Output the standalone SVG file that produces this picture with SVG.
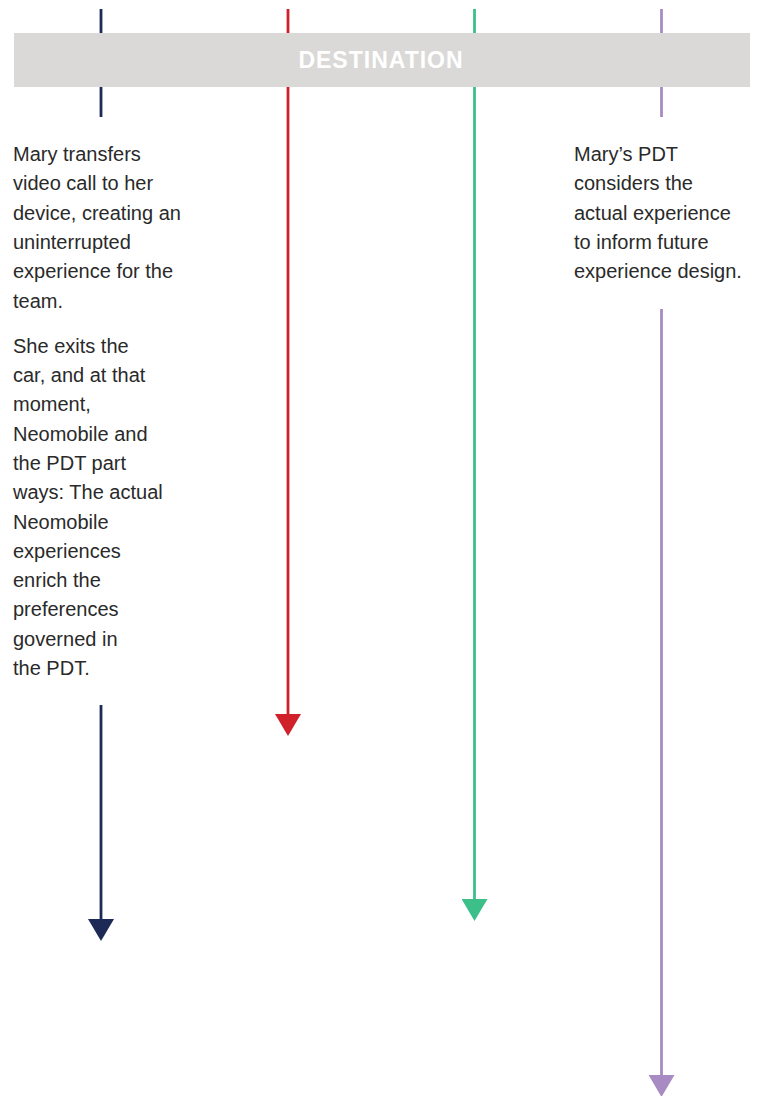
<svg xmlns="http://www.w3.org/2000/svg" width="759" height="1096" viewBox="0 0 759 1096">
<style>
.ln{fill:none;stroke-width:2.8}
.txt{font-family:"Liberation Sans",Arial,sans-serif;font-size:20px;fill:#2a2a2a}
.band-label{font-family:"Liberation Sans",Arial,sans-serif;font-size:23px;font-weight:bold;fill:#ffffff;letter-spacing:1px}
</style>
<defs>
<marker id="ah-navy" markerUnits="userSpaceOnUse" markerWidth="22" markerHeight="26" refX="0" refY="13" orient="auto"><path d="M0,0 L22,13 L0,26 z" fill="#1c2a55"/></marker>
<marker id="ah-red" markerUnits="userSpaceOnUse" markerWidth="22" markerHeight="26" refX="0" refY="13" orient="auto"><path d="M0,0 L22,13 L0,26 z" fill="#d0202a"/></marker>
<marker id="ah-green" markerUnits="userSpaceOnUse" markerWidth="22" markerHeight="26" refX="0" refY="13" orient="auto"><path d="M0,0 L22,13 L0,26 z" fill="#3dbf8a"/></marker>
<marker id="ah-purple" markerUnits="userSpaceOnUse" markerWidth="22" markerHeight="26" refX="0" refY="13" orient="auto"><path d="M0,0 L22,13 L0,26 z" fill="#a98bc4"/></marker>
</defs>
<rect width="759" height="1096" fill="#ffffff"/>
<g id="connectors">
<line class="ln" x1="101" y1="9" x2="101" y2="117" stroke="#1c2a55"/>
<line class="ln" x1="101" y1="705" x2="101" y2="919" stroke="#1c2a55" marker-end="url(#ah-navy)"/>
<line class="ln" x1="288" y1="9" x2="288" y2="714" stroke="#d0202a" marker-end="url(#ah-red)"/>
<line class="ln" x1="474.5" y1="9" x2="474.5" y2="899" stroke="#3dbf8a" marker-end="url(#ah-green)"/>
<line class="ln" x1="661.5" y1="9" x2="661.5" y2="117" stroke="#a98bc4"/>
<line class="ln" x1="661.5" y1="309" x2="661.5" y2="1075" stroke="#a98bc4" marker-end="url(#ah-purple)"/>
</g>
<g id="destination-band">
<rect x="14" y="33" width="736" height="54" fill="#dad9d7"/>
<text class="band-label" x="381" y="68" text-anchor="middle">DESTINATION</text>
</g>
<g id="node-transfer">
<text class="txt" x="13" y="161">Mary transfers</text>
<text class="txt" x="13" y="190.3">video call to her</text>
<text class="txt" x="13" y="219.6">device, creating an</text>
<text class="txt" x="13" y="248.9">uninterrupted</text>
<text class="txt" x="13" y="278.2">experience for the</text>
<text class="txt" x="13" y="307.5">team.</text>
</g>
<g id="node-exit">
<text class="txt" x="13" y="352.7">She exits the</text>
<text class="txt" x="13" y="382">car, and at that</text>
<text class="txt" x="13" y="411.3">moment,</text>
<text class="txt" x="13" y="440.6">Neomobile and</text>
<text class="txt" x="13" y="469.9">the PDT part</text>
<text class="txt" x="13" y="499.2">ways: The actual</text>
<text class="txt" x="13" y="528.5">Neomobile</text>
<text class="txt" x="13" y="557.8">experiences</text>
<text class="txt" x="13" y="587.1">enrich the</text>
<text class="txt" x="13" y="616.4">preferences</text>
<text class="txt" x="13" y="645.7">governed in</text>
<text class="txt" x="13" y="675">the PDT.</text>
</g>
<g id="node-pdt">
<text class="txt" x="574" y="161">Mary’s PDT</text>
<text class="txt" x="574" y="190.3">considers the</text>
<text class="txt" x="574" y="219.6">actual experience</text>
<text class="txt" x="574" y="248.9">to inform future</text>
<text class="txt" x="574" y="278.2">experience design.</text>
</g>
</svg>
